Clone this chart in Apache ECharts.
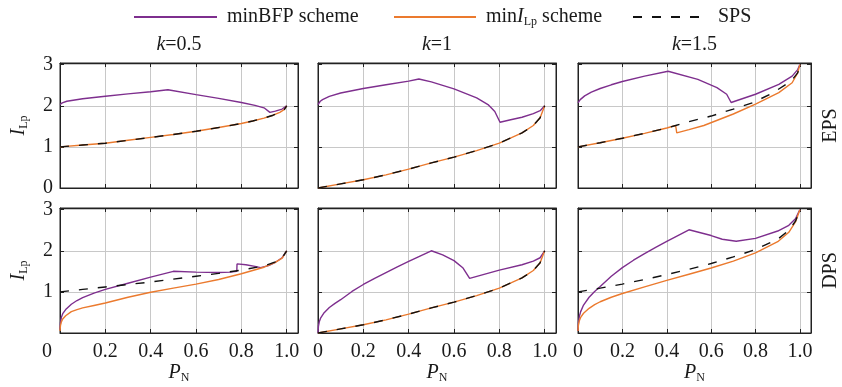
<!DOCTYPE html>
<html><head><meta charset="utf-8">
<script src="https://cdn.jsdelivr.net/npm/echarts@6/dist/echarts.min.js"></script>
<style>html,body{margin:0;padding:0;background:#fff}#c{width:842px;height:387px}</style>
</head><body><div id="c"></div>
<script>
// ---------- data ----------
const kLabels = ['0.5', '1', '1.5'];
const rowLabels = ['EPS', 'DPS'];
const seriesNames = ['minBFP scheme', 'minILp scheme', 'SPS'];
const xTickStep = 0.2;
const yTickStep = 1;

// EPS, k=0.5
const eps05BfpX = [0, 0.01, 0.03, 0.1, 0.2, 0.3, 0.4, 0.476, 0.6, 0.7, 0.8, 0.86, 0.9, 0.926, 0.95, 0.98, 1.0];
const eps05BfpY = [2.03, 2.07, 2.11, 2.17, 2.23, 2.29, 2.34, 2.39, 2.27, 2.18, 2.08, 2.01, 1.95, 1.84, 1.87, 1.92, 2.0];
const eps05LpX = [0, 0.1, 0.2, 0.3, 0.4, 0.5, 0.6, 0.7, 0.8, 0.85, 0.9, 0.94, 0.97, 0.99, 1.0];
const eps05LpY = [1.0, 1.045, 1.09, 1.16, 1.23, 1.30, 1.38, 1.47, 1.57, 1.63, 1.70, 1.77, 1.84, 1.91, 2.0];
const eps05SpsX = [0, 0.1, 0.2, 0.3, 0.4, 0.5, 0.6, 0.7, 0.8, 0.85, 0.9, 0.94, 0.97, 0.99, 1.0];
const eps05SpsY = [1.0, 1.045, 1.09, 1.16, 1.23, 1.30, 1.38, 1.47, 1.57, 1.63, 1.70, 1.77, 1.84, 1.91, 2.0];

// EPS, k=1
const eps1BfpX = [0, 0.01, 0.02, 0.05, 0.1, 0.2, 0.3, 0.4, 0.445, 0.5, 0.6, 0.7, 0.75, 0.78, 0.803, 0.85, 0.9, 0.95, 0.98, 1.0];
const eps1BfpY = [2.03, 2.11, 2.15, 2.23, 2.31, 2.42, 2.51, 2.60, 2.65, 2.58, 2.41, 2.19, 2.03, 1.86, 1.60, 1.66, 1.72, 1.81, 1.88, 2.0];
const eps1LpX = [0, 0.1, 0.2, 0.3, 0.4, 0.5, 0.6, 0.7, 0.8, 0.9, 0.95, 0.98, 1.0];
const eps1LpY = [0, 0.10, 0.20, 0.32, 0.46, 0.61, 0.75, 0.91, 1.09, 1.34, 1.52, 1.71, 2.0];
const eps1SpsX = [0, 0.1, 0.2, 0.3, 0.4, 0.5, 0.6, 0.7, 0.8, 0.9, 0.95, 0.98, 1.0];
const eps1SpsY = [0, 0.10, 0.20, 0.32, 0.46, 0.61, 0.75, 0.91, 1.09, 1.34, 1.52, 1.71, 2.0];

// EPS, k=1.5
const eps15BfpX = [0, 0.01, 0.03, 0.06, 0.1, 0.15, 0.2, 0.3, 0.406, 0.54, 0.626, 0.67, 0.69, 0.8, 0.905, 0.965, 0.99, 1.0];
const eps15BfpY = [2.07, 2.15, 2.24, 2.33, 2.42, 2.51, 2.59, 2.72, 2.84, 2.64, 2.44, 2.28, 2.08, 2.28, 2.52, 2.72, 2.88, 3.0];
const eps15LpX = [0, 0.1, 0.2, 0.3, 0.4, 0.44, 0.445, 0.5, 0.567, 0.7, 0.8, 0.905, 0.965, 0.99, 1.0];
const eps15LpY = [1.0, 1.1, 1.21, 1.33, 1.46, 1.52, 1.34, 1.42, 1.52, 1.80, 2.04, 2.32, 2.56, 2.8, 3.0];
const eps15SpsX = [0, 0.1, 0.2, 0.3, 0.4, 0.44, 0.49, 0.6, 0.7, 0.79, 0.88, 0.96, 0.99, 1.0];
const eps15SpsY = [1.0, 1.1, 1.21, 1.33, 1.46, 1.52, 1.60, 1.75, 1.92, 2.08, 2.32, 2.6, 2.8, 3.0];

// DPS, k=0.5
const dps05BfpX = [0, 0.002, 0.006, 0.012, 0.025, 0.05, 0.075, 0.1, 0.15, 0.2, 0.3, 0.4, 0.5, 0.6, 0.7, 0.75, 0.78, 0.781, 0.82, 0.86, 0.885, 0.92, 0.95, 0.98, 1.0];
const dps05BfpY = [0.08, 0.25, 0.38, 0.47, 0.57, 0.70, 0.79, 0.86, 0.97, 1.06, 1.21, 1.36, 1.50, 1.48, 1.47, 1.48, 1.50, 1.68, 1.66, 1.62, 1.59, 1.64, 1.72, 1.83, 2.0];
const dps05LpX = [0, 0.002, 0.006, 0.012, 0.025, 0.05, 0.075, 0.1, 0.15, 0.2, 0.3, 0.4, 0.5, 0.6, 0.7, 0.8, 0.9, 0.95, 0.98, 1.0];
const dps05LpY = [0.05, 0.18, 0.27, 0.34, 0.42, 0.52, 0.57, 0.61, 0.67, 0.73, 0.87, 0.99, 1.09, 1.19, 1.30, 1.44, 1.60, 1.72, 1.82, 2.0];
const dps05SpsX = [0, 0.1, 0.2, 0.3, 0.4, 0.5, 0.6, 0.7, 0.8, 0.9, 0.95, 0.98, 1.0];
const dps05SpsY = [1.0, 1.06, 1.12, 1.18, 1.24, 1.31, 1.38, 1.45, 1.53, 1.63, 1.73, 1.83, 2.0];

// DPS, k=1
const dps1BfpX = [0, 0.002, 0.006, 0.012, 0.025, 0.05, 0.075, 0.1, 0.15, 0.2, 0.25, 0.3, 0.35, 0.4, 0.45, 0.5, 0.55, 0.6, 0.64, 0.669, 0.8, 0.9, 0.95, 0.98, 1.0];
const dps1BfpY = [0, 0.17, 0.28, 0.37, 0.48, 0.62, 0.72, 0.81, 1.01, 1.18, 1.33, 1.47, 1.61, 1.74, 1.87, 2.0, 1.90, 1.76, 1.58, 1.33, 1.53, 1.66, 1.75, 1.83, 2.0];
const dps1LpX = [0, 0.1, 0.2, 0.3, 0.4, 0.5, 0.6, 0.7, 0.8, 0.9, 0.95, 0.98, 1.0];
const dps1LpY = [0, 0.10, 0.20, 0.32, 0.46, 0.61, 0.75, 0.91, 1.09, 1.34, 1.52, 1.71, 2.0];
const dps1SpsX = [0, 0.1, 0.2, 0.3, 0.4, 0.5, 0.6, 0.7, 0.8, 0.9, 0.95, 0.98, 1.0];
const dps1SpsY = [0, 0.10, 0.20, 0.32, 0.46, 0.61, 0.75, 0.91, 1.09, 1.34, 1.52, 1.71, 2.0];

// DPS, k=1.5
const dps15BfpX = [0, 0.002, 0.006, 0.012, 0.025, 0.05, 0.075, 0.1, 0.15, 0.2, 0.25, 0.3, 0.35, 0.4, 0.45, 0.5, 0.6, 0.65, 0.713, 0.8, 0.9, 0.95, 0.98, 1.0];
const dps15BfpY = [0.05, 0.25, 0.40, 0.52, 0.68, 0.87, 1.01, 1.13, 1.38, 1.59, 1.77, 1.93, 2.08, 2.23, 2.37, 2.51, 2.37, 2.28, 2.23, 2.30, 2.48, 2.62, 2.78, 3.0];
const dps15LpX = [0, 0.002, 0.006, 0.012, 0.025, 0.05, 0.075, 0.1, 0.15, 0.2, 0.3, 0.4, 0.5, 0.6, 0.7, 0.8, 0.9, 0.95, 0.98, 1.0];
const dps15LpY = [0.05, 0.2, 0.3, 0.38, 0.48, 0.60, 0.69, 0.76, 0.87, 0.96, 1.12, 1.28, 1.43, 1.58, 1.75, 1.95, 2.22, 2.45, 2.7, 3.0];
const dps15SpsX = [0, 0.1, 0.2, 0.3, 0.4, 0.5, 0.6, 0.7, 0.8, 0.9, 0.95, 0.98, 1.0];
const dps15SpsY = [1.0, 1.09, 1.19, 1.30, 1.42, 1.55, 1.69, 1.85, 2.03, 2.28, 2.5, 2.72, 3.0];

// ---------- chart ----------
const F = '"Liberation Serif", "DejaVu Serif", serif';
const TXT = '#1a1a1a';
const FS = 20;
const colors = ['#7E2F8E', '#EB7A2E', '#111111'];
const rich = {
  i: {fontFamily: F, fontSize: FS, fontStyle: 'italic', color: TXT},
  n: {fontFamily: F, fontSize: FS, color: TXT},
  s: {fontFamily: F, fontSize: 12, color: TXT, padding: [10, 0, 0, 0]},
  z: {fontFamily: F, fontSize: FS, color: TXT, padding: [0, 26, 0, 0]}
};
const panels = [
  [[eps05BfpX, eps05BfpY], [eps05LpX, eps05LpY], [eps05SpsX, eps05SpsY]],
  [[eps1BfpX, eps1BfpY], [eps1LpX, eps1LpY], [eps1SpsX, eps1SpsY]],
  [[eps15BfpX, eps15BfpY], [eps15LpX, eps15LpY], [eps15SpsX, eps15SpsY]],
  [[dps05BfpX, dps05BfpY], [dps05LpX, dps05LpY], [dps05SpsX, dps05SpsY]],
  [[dps1BfpX, dps1BfpY], [dps1LpX, dps1LpY], [dps1SpsX, dps1SpsY]],
  [[dps15BfpX, dps15BfpY], [dps15LpX, dps15LpY], [dps15SpsX, dps15SpsY]]
];
const colLeft = [60, 318, 578];
const rowTop = [63, 208];
const W = 238, H = 125;
const XMAX = 1.05, YMAX = 3.04;

const grid = [], xAxis = [], yAxis = [], series = [];
for (let p = 0; p < 6; p++) {
  const r = Math.floor(p / 3), c = p % 3;
  grid.push({left: colLeft[c], top: rowTop[r], width: W, height: H, show: true,
    borderColor: '#222', borderWidth: 1, backgroundColor: 'transparent'});
}
const axLine = {show: true, onZero: false, lineStyle: {color: '#222', width: 1}};
const axTick = {show: true, inside: true, length: 4, lineStyle: {color: '#222'}};
const split = {show: true, showMinLine: false, showMaxLine: false, lineStyle: {color: '#c8c8c8', width: 1}};
for (let p = 0; p < 6; p++) {
  const r = Math.floor(p / 3), c = p % 3;
  xAxis.push({
    type: 'value', gridIndex: p, position: 'bottom', min: 0, max: XMAX, interval: xTickStep,
    axisLine: axLine, axisTick: axTick, splitLine: split,
    axisLabel: {show: r === 1, margin: 9, showMaxLabel: false, fontFamily: F, fontSize: FS, color: TXT, rich: rich,
      formatter: v => {
        if (v > 1.001) return '';
        if (Math.abs(v) < 1e-9) return (c === 0) ? '{z|0}' : '0';
        return v.toFixed(1);
      }},
    name: r === 1 ? '{i|P}{s|N}' : '', nameLocation: 'middle', nameGap: 29,
    nameTextStyle: {fontFamily: F, fontSize: FS, color: TXT, rich: rich}
  });
}
for (let p = 0; p < 6; p++) {
  const r = Math.floor(p / 3), c = p % 3;
  xAxis.push({
    type: 'value', gridIndex: p, position: 'top', min: 0, max: XMAX, interval: xTickStep,
    axisLine: axLine, axisTick: axTick, splitLine: {show: false}, axisLabel: {show: false},
    name: r === 0 ? '{i|k}{n|=' + kLabels[c] + '}' : '', nameLocation: 'middle', nameGap: 8,
    nameTextStyle: {fontFamily: F, fontSize: FS, color: TXT, rich: rich}
  });
}
for (let p = 0; p < 6; p++) {
  const r = Math.floor(p / 3), c = p % 3;
  yAxis.push({
    type: 'value', gridIndex: p, position: 'left', min: 0, max: YMAX, interval: yTickStep,
    axisLine: axLine, axisTick: axTick, splitLine: split,
    axisLabel: {show: c === 0, margin: 7, showMaxLabel: false, fontFamily: F, fontSize: FS, color: TXT,
      formatter: v => {
        if (v > 3.001) return '';
        if (r === 1 && Math.abs(v) < 1e-9) return '';
        return String(Math.round(v));
      }},
    name: c === 0 ? '{i|I}{s|Lp}' : '', nameLocation: 'middle', nameRotate: 90, nameGap: 30,
    nameTextStyle: {fontFamily: F, fontSize: FS, color: TXT, rich: rich}
  });
}
for (let p = 0; p < 6; p++) {
  const r = Math.floor(p / 3), c = p % 3;
  yAxis.push({
    type: 'value', gridIndex: p, position: 'right', min: 0, max: YMAX, interval: yTickStep,
    axisLine: axLine, axisTick: axTick, splitLine: {show: false}, axisLabel: {show: false},
    name: c === 2 ? rowLabels[r] : '', nameLocation: 'middle', nameRotate: 90, nameGap: 10,
    nameTextStyle: {fontFamily: F, fontSize: FS, color: TXT}
  });
}
for (let p = 0; p < 6; p++) {
  panels[p].forEach((sd, s) => {
    const xs = sd[0], ys = sd[1];
    series.push({
      type: 'line', name: seriesNames[s], xAxisIndex: p, yAxisIndex: p,
      data: xs.map((x, i) => [x, ys[i]]), symbol: 'none', showSymbol: false, silent: true,
      lineStyle: {color: colors[s], width: 1.4, type: s === 2 ? [9, 10] : 'solid'},
      itemStyle: {color: colors[s]}, z: 2 + s
    });
  });
}
const legTS = {fontFamily: F, fontSize: FS, color: TXT, padding: [0, 0, 0, 5], rich: rich};
const legItem = {opacity: 0};
const legend = [
  {data: [seriesNames[0]], left: 128, top: 2, itemWidth: 83, itemHeight: 14, selectedMode: false, textStyle: legTS, itemStyle: legItem},
  {data: [seriesNames[1]], left: 388, top: 2, itemWidth: 82, itemHeight: 14, selectedMode: false, textStyle: legTS, itemStyle: legItem,
    formatter: () => '{n|min}{i|I}{s|Lp}{n| scheme}'},
  {data: [seriesNames[2]], left: 627, top: 2, itemWidth: 75, itemHeight: 14, selectedMode: false, textStyle: legTS, itemStyle: legItem}
];
const chart = echarts.init(document.getElementById('c'), null, {renderer: 'canvas'});
chart.setOption({animation: false, backgroundColor: '#fff', legend, grid, xAxis, yAxis, series});
</script></body></html>
